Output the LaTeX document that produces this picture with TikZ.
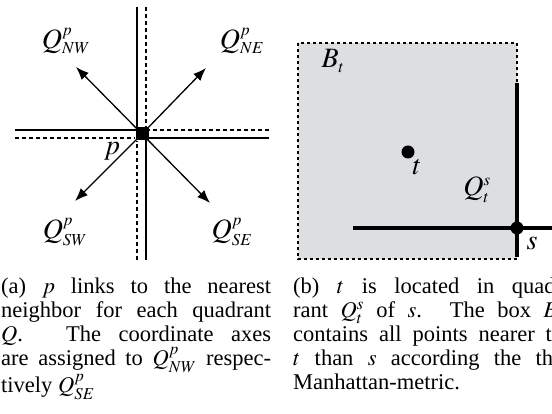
\documentclass[tikz,border=0pt]{standalone}
\usepackage{amsmath}
\usepackage{mathptmx}
\usepackage{fontspec}
\setmainfont{Liberation Serif}
\usetikzlibrary{arrows.meta}
\definecolor{boxgray}{RGB}{220,222,226}

\begin{document}
\begin{tikzpicture}[x=1pt,y=-1pt,
  axis/.style={line width=1.3pt},
  half/.style={line width=1.3pt,dash pattern=on 4pt off 3pt},
  link/.style={line width=1.3pt,-{Latex[length=13pt,width=10pt]}},
  sq/.style={fill=black,inner sep=0pt,minimum size=13pt},
  dot/.style={circle,fill=black,inner sep=0pt,minimum size=13pt},
  lab/.style={inner sep=0pt,font=\fontsize{28}{32}\selectfont},
  captext/.style={anchor=base west,inner sep=0pt,font=\fontsize{22.5}{24}\selectfont}]
\useasboundingbox (0,0) rectangle (552,414);
% (a) quadrants of p
\node[sq] (p) at (142,134) {};
\coordinate (top1) at (137,7);
\coordinate (top2) at (146,7);
\coordinate (bot1) at (137,260);
\coordinate (bot2) at (146,260);
\coordinate (lft1) at (15,130);
\coordinate (lft2) at (15,138);
\coordinate (rgt1) at (269,130);
\coordinate (rgt2) at (269,138);
\draw[axis] (top1) -- (top1 |- p.center);
\draw[half] (top2) -- (top2 |- p.north);
\draw[half] (bot1) -- (bot1 |- p.south);
\draw[axis] (bot2) -- (bot2 |- p.center);
\draw[axis] (lft1) -- (lft1 -| p.center);
\draw[half] (lft2) -- (lft2 -| p.west);
\draw[half] (rgt1) -- (rgt1 -| p.east);
\draw[axis] (rgt2) -- (rgt2 -| p.center);
\coordinate (nw) at (76,67);
\coordinate (ne) at (206,68);
\coordinate (sw) at (75,201);
\coordinate (se) at (210,203);
\draw[link] (p.center) -- (nw);
\draw[link] (p.center) -- (ne);
\draw[link] (p.center) -- (sw);
\draw[link] (p.center) -- (se);
\node[lab] (qnw) at (66,41) {$Q^{\scriptscriptstyle p}_{\scriptscriptstyle NW}$};
\node[lab] (qne) at (242,41) {$Q^{\scriptscriptstyle p}_{\scriptscriptstyle NE}$};
\node[lab] (qsw) at (65,232) {$Q^{\scriptscriptstyle p}_{\scriptscriptstyle SW}$};
\node[lab] (qse) at (232,232) {$Q^{\scriptscriptstyle p}_{\scriptscriptstyle SE}$};
\node[lab] (plab) at (112,151) {$p$};
% (b) box of t
\draw[fill=boxgray,line width=1.2pt,dash pattern=on 3pt off 3pt] (298,43) rectangle (517,259);
\node[dot] (s) at (517,228) {};
\node[dot] (t) at (408,152) {};
\coordinate (sl) at (353,228);
\coordinate (sr) at (552,228);
\coordinate (su) at (517,83);
\coordinate (sd) at (517,257);
\draw[line width=4pt] (sl) -- (sr);
\draw[line width=4pt] (su) -- (sd);
\node[lab] (bt) at (333,61) {$B_{\scriptscriptstyle t}$};
\node[lab] (tlab) at (417,167) {$t$};
\node[lab] (qts) at (477,190) {$Q^{\scriptscriptstyle s}_{\scriptscriptstyle t}$};
\node[lab] (slab) at (532,243) {$s$};
% captions
\node[captext] (capa) at (1,294) {\parbox[t]{270pt}{(a) $p$ links to the nearest\linebreak
  neighbor for each quadrant\linebreak
  $Q$. The coordinate axes\linebreak
  are assigned to $Q^p_{NW}$ respec-\linebreak
  tively $Q^p_{SE}$}};
\node[captext] (capb) at (293,294) {\parbox[t]{270pt}{(b) $t$ is located in quad-\linebreak
  rant $Q^s_t$ of $s$. The box $B_t$\linebreak
  contains all points nearer to\linebreak
  $t$ than $s$ according the the\linebreak
  Manhattan-metric.}};
\end{tikzpicture}
\end{document}
